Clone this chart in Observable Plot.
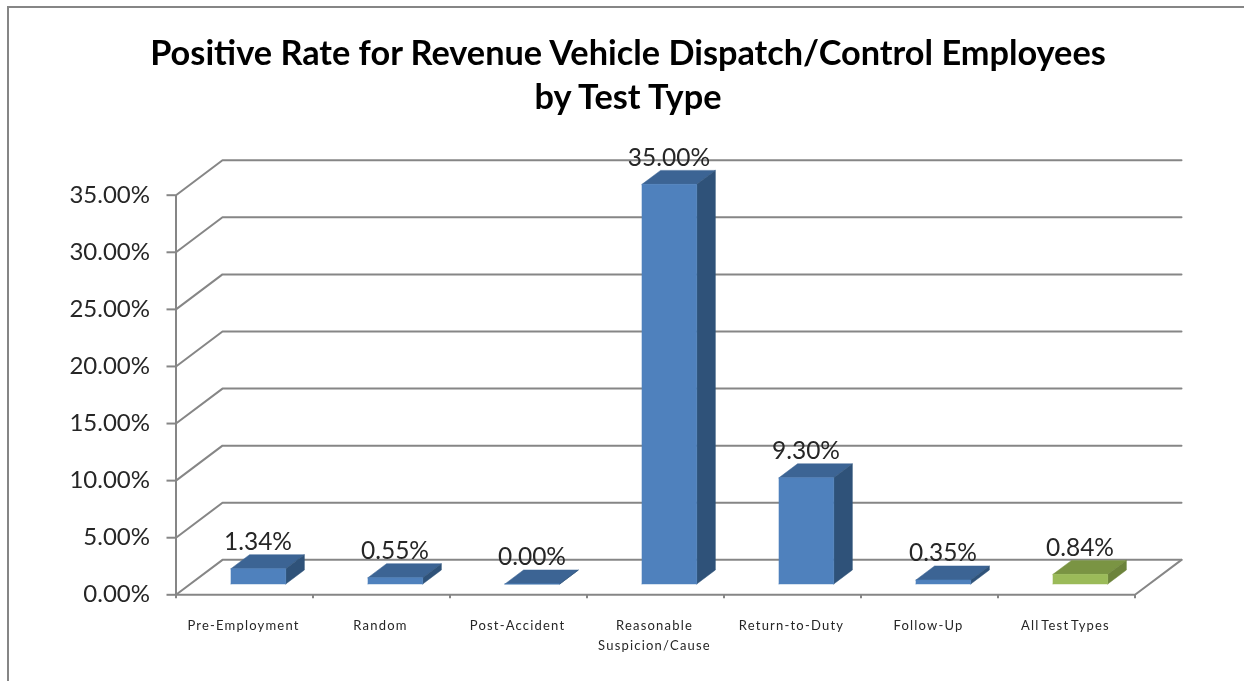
<!DOCTYPE html>
<html>
<head>
<meta charset="utf-8">
<script src="https://cdn.jsdelivr.net/npm/d3@7"></script>
<script src="https://cdn.jsdelivr.net/npm/@observablehq/plot@0.6"></script>
<style>
html,body{margin:0;padding:0;background:#fff;overflow:hidden;}
#frame{position:absolute;left:7px;top:6px;right:0;bottom:0;border-left:2px solid #868686;border-top:2px solid #868686;pointer-events:none;}
#title{height:130px;box-sizing:border-box;padding-top:30px;padding-left:12px;text-align:center;font:700 34.3px/44px Lato,sans-serif;color:#000;filter:blur(.4px);}
#chart svg{display:block;filter:blur(.4px);}
.cat text, g.cat{letter-spacing:1.2px;word-spacing:-2.5px;}
</style>
</head>
<body>
<div id="frame"></div>
<div id="title">Positive Rate for Revenue Vehicle Dispatch/Control Employees<br>by Test Type</div>
<div id="chart"></div>
<script>
const categories = ["Pre-Employment","Random","Post-Accident","Reasonable\nSuspicion/Cause","Return-to-Duty","Follow-Up","All Test Types"];
const values = [1.34,0.55,0.00,35.00,9.30,0.35,0.84];
const gridValues = [0,5,10,15,20,25,30,35];
const summaryCategory = "All Test Types";

// oblique projection: a point (col, value, depth) to data coordinates
const depthX = 0.3394, depthY = 3.0625;
const barLeft = 0.296, barRight = 0.696, depthNear = 0.31, depthFar = 0.71;
const proj = (col, v, d) => ({x: col + d * depthX, y: v + d * depthY});

const fmt = v => v.toFixed(2) + "%";
const palette = {
  blue: {front:"#4F81BD", top:"#3C6494", side:"#2F5279"},
  green:{front:"#9BBB59", top:"#7A9443", side:"#6C833B"}
};

const faces = [];
categories.forEach((c,i) => {
  const v = values[i], p = palette[c === summaryCategory ? "green" : "blue"];
  const L = i + barLeft, R = i + barRight;
  const poly = (name, fill, pts) => pts.forEach(q => faces.push({...proj(...q), id: i + name, fill}));
  poly("top", p.top, [[L,v,depthNear],[R,v,depthNear],[R,v,depthFar],[L,v,depthFar],[L,v,depthNear]]);
  poly("side", p.side, [[R,0,depthNear],[R,v,depthNear],[R,v,depthFar],[R,0,depthFar],[R,0,depthNear]]);
  poly("front", p.front, [[L,0,depthNear],[R,0,depthNear],[R,v,depthNear],[L,v,depthNear],[L,0,depthNear]]);
});

const nCat = categories.length;
const wall = gridValues.flatMap(v => [proj(0,v,0), proj(0,v,1), proj(nCat,v,1)].map(q => ({...q, id:v})));
const floor = [proj(0,0,0), proj(nCat,0,0), proj(nCat,0,1)];

const rows = categories.map((c,i) => ({c, v: values[i], i}));

const plot = Plot.plot({
  width: 1244, height: 551,
  marginLeft: 175.5, marginRight: 109.5, marginTop: 64.7, marginBottom: 86.7,
  x: {domain:[0,nCat]},
  y: {domain:[0,35]},
  color: {type:"identity"},
  style: {fontFamily:"Lato, sans-serif", background:"transparent", overflow:"visible"},
  marks: [
    Plot.line(wall, {x:"x", y:"y", z:"id", stroke:"#868686", strokeWidth:2}),
    Plot.line(floor, {x:"x", y:"y", stroke:"#868686", strokeWidth:2}),
    Plot.ruleX([0], {y1:0, y2:35, stroke:"#868686", strokeWidth:2}),
    Plot.axisY({ticks:gridValues, tickFormat:fmt, tickSize:9, tickPadding:17, stroke:"#868686", strokeWidth:2, fill:"#262626", fontSize:24, label:null, textStroke:"none"}),
    Plot.axisX({ticks:d3.range(nCat+1), tickFormat:()=>"", tickSize:4, stroke:"#868686", strokeWidth:2, label:null}),
    Plot.line(faces, {x:"x", y:"y", z:"id", fill:"fill", stroke:"fill", strokeWidth:.5}),
    Plot.text(rows, {x:d => proj(d.i+.493,0,depthNear).x, y:d => proj(0,d.v,depthFar).y, dy:-12.5, text:d => fmt(d.v), fontSize:24.5, fill:"#262626"}),
    Plot.text(rows, {x:d => d.i+.5, y:0, dx:-1, dy:21.5, text:"c", lineAnchor:"top", fontSize:13, lineHeight:1.5, fill:"#262626", className:"cat"})
  ]
});
document.getElementById("chart").append(plot);
</script>
</body>
</html>
